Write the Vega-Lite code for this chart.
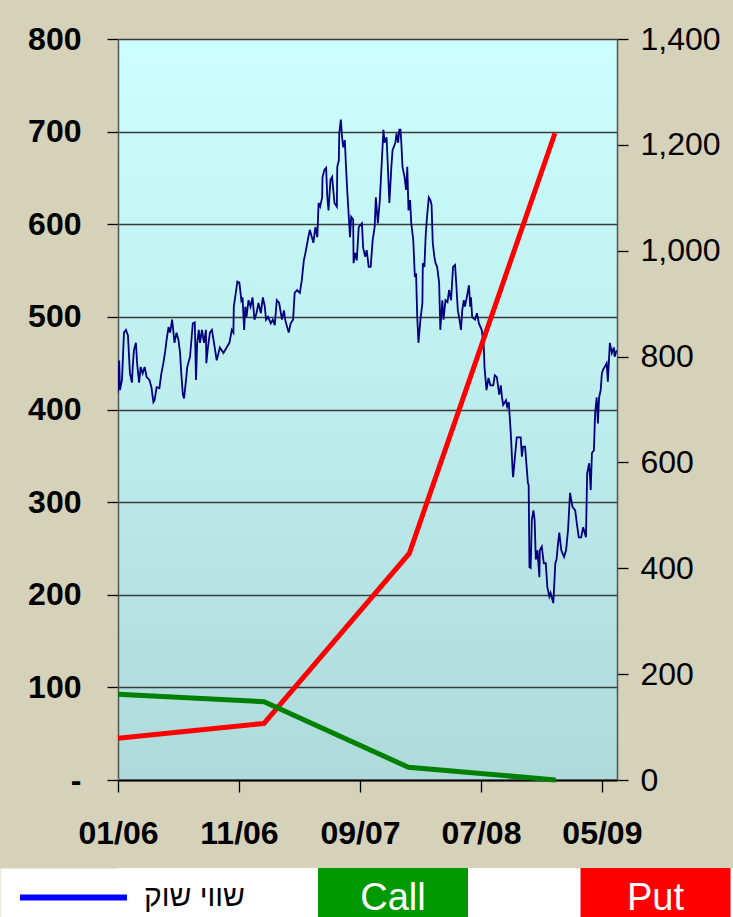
{
  "$schema": "https://vega.github.io/schema/vega-lite/v6.json",
  "background": "#d6d1b9",
  "padding": 0,
  "spacing": 0,
  "config": {
    "font": "Liberation Sans",
    "view": {"stroke": null},
    "axis": {"labelFont": "Liberation Sans", "labelColor": "#000000", "tickColor": "#000000"}
  },
  "resolve": {"scale": {"color": "independent", "x": "independent", "y": "independent"}},
  "datasets": {
    "market": [
      {"date":"2006-01-01","value":418},{"date":"2006-01-04","value":453},{"date":"2006-01-06","value":421},{"date":"2006-01-11","value":432},{"date":"2006-01-16","value":483},{"date":"2006-01-21","value":486},{"date":"2006-01-26","value":480},{"date":"2006-01-31","value":439},{"date":"2006-02-05","value":429},{"date":"2006-02-07","value":446},{"date":"2006-02-10","value":464},{"date":"2006-02-15","value":472},{"date":"2006-02-18","value":450},{"date":"2006-02-23","value":429},{"date":"2006-02-27","value":446},{"date":"2006-03-04","value":439},{"date":"2006-03-09","value":446},{"date":"2006-03-14","value":435},{"date":"2006-03-21","value":432},{"date":"2006-03-26","value":424},{"date":"2006-03-31","value":408},{"date":"2006-04-03","value":410},{"date":"2006-04-08","value":424},{"date":"2006-04-15","value":423},{"date":"2006-04-20","value":439},{"date":"2006-04-25","value":450},{"date":"2006-04-30","value":464},{"date":"2006-05-03","value":475},{"date":"2006-05-08","value":489},{"date":"2006-05-12","value":483},{"date":"2006-05-17","value":497},{"date":"2006-05-23","value":472},{"date":"2006-05-28","value":483},{"date":"2006-06-02","value":475},{"date":"2006-06-06","value":461},{"date":"2006-06-09","value":439},{"date":"2006-06-13","value":416},{"date":"2006-06-16","value":412},{"date":"2006-06-21","value":432},{"date":"2006-06-24","value":446},{"date":"2006-07-01","value":457},{"date":"2006-07-08","value":493},{"date":"2006-07-13","value":494},{"date":"2006-07-16","value":432},{"date":"2006-07-19","value":472},{"date":"2006-07-23","value":486},{"date":"2006-07-26","value":472},{"date":"2006-07-31","value":486},{"date":"2006-08-05","value":472},{"date":"2006-08-10","value":486},{"date":"2006-08-11","value":450},{"date":"2006-08-15","value":467},{"date":"2006-08-20","value":483},{"date":"2006-08-25","value":486},{"date":"2006-09-01","value":467},{"date":"2006-09-06","value":453},{"date":"2006-09-14","value":467},{"date":"2006-09-23","value":461},{"date":"2006-10-01","value":467},{"date":"2006-10-08","value":472},{"date":"2006-10-14","value":486},{"date":"2006-10-18","value":483},{"date":"2006-10-19","value":511},{"date":"2006-10-24","value":526},{"date":"2006-10-28","value":538},{"date":"2006-11-02","value":537},{"date":"2006-11-07","value":518},{"date":"2006-11-10","value":521},{"date":"2006-11-14","value":486},{"date":"2006-11-17","value":511},{"date":"2006-11-20","value":500},{"date":"2006-11-25","value":518},{"date":"2006-11-30","value":511},{"date":"2006-12-05","value":521},{"date":"2006-12-10","value":497},{"date":"2006-12-15","value":504},{"date":"2006-12-20","value":515},{"date":"2006-12-26","value":504},{"date":"2006-12-31","value":521},
      {"date":"2007-01-05","value":511},{"date":"2007-01-08","value":497},{"date":"2007-01-13","value":500},{"date":"2007-01-20","value":493},{"date":"2007-01-25","value":497},{"date":"2007-01-30","value":491},{"date":"2007-02-04","value":518},{"date":"2007-02-10","value":515},{"date":"2007-02-17","value":497},{"date":"2007-02-22","value":507},{"date":"2007-02-25","value":497},{"date":"2007-03-02","value":489},{"date":"2007-03-06","value":483},{"date":"2007-03-11","value":493},{"date":"2007-03-17","value":497},{"date":"2007-03-21","value":526},{"date":"2007-03-27","value":529},{"date":"2007-04-03","value":526},{"date":"2007-04-08","value":540},{"date":"2007-04-13","value":561},{"date":"2007-04-17","value":569},{"date":"2007-04-23","value":583},{"date":"2007-04-28","value":594},{"date":"2007-05-07","value":580},{"date":"2007-05-12","value":597},{"date":"2007-05-17","value":586},{"date":"2007-05-20","value":623},{"date":"2007-05-24","value":619},{"date":"2007-05-29","value":629},{"date":"2007-05-30","value":651},{"date":"2007-06-04","value":659},{"date":"2007-06-08","value":661},{"date":"2007-06-11","value":629},{"date":"2007-06-14","value":615},{"date":"2007-06-19","value":648},{"date":"2007-06-23","value":651},{"date":"2007-06-29","value":623},{"date":"2007-07-05","value":619},{"date":"2007-07-06","value":662},{"date":"2007-07-10","value":669},{"date":"2007-07-11","value":698},{"date":"2007-07-15","value":713},{"date":"2007-07-18","value":694},{"date":"2007-07-21","value":683},{"date":"2007-07-25","value":691},{"date":"2007-07-28","value":662},{"date":"2007-07-31","value":637},{"date":"2007-08-07","value":586},{"date":"2007-08-10","value":608},{"date":"2007-08-15","value":605},{"date":"2007-08-16","value":558},{"date":"2007-08-20","value":569},{"date":"2007-08-24","value":561},{"date":"2007-08-29","value":597},{"date":"2007-09-06","value":601},{"date":"2007-09-09","value":575},{"date":"2007-09-14","value":565},{"date":"2007-09-18","value":572},{"date":"2007-09-23","value":554},{"date":"2007-09-28","value":554},{"date":"2007-10-03","value":583},{"date":"2007-10-08","value":597},{"date":"2007-10-11","value":629},{"date":"2007-10-16","value":601},{"date":"2007-10-21","value":626},{"date":"2007-10-30","value":702},{"date":"2007-11-02","value":688},{"date":"2007-11-07","value":694},{"date":"2007-11-14","value":623},{"date":"2007-11-19","value":662},{"date":"2007-11-22","value":680},{"date":"2007-11-29","value":688},{"date":"2007-12-02","value":698},{"date":"2007-12-06","value":688},{"date":"2007-12-09","value":702},{"date":"2007-12-12","value":702},{"date":"2007-12-14","value":688},{"date":"2007-12-17","value":662},{"date":"2007-12-22","value":651},{"date":"2007-12-26","value":637},{"date":"2007-12-29","value":662},
      {"date":"2008-01-01","value":615},{"date":"2008-01-05","value":626},{"date":"2008-01-08","value":601},{"date":"2008-01-13","value":583},{"date":"2008-01-17","value":543},{"date":"2008-01-20","value":547},{"date":"2008-01-23","value":500},{"date":"2008-01-26","value":472},{"date":"2008-01-31","value":497},{"date":"2008-02-05","value":515},{"date":"2008-02-06","value":558},{"date":"2008-02-10","value":554},{"date":"2008-02-13","value":586},{"date":"2008-02-16","value":605},{"date":"2008-02-21","value":629},{"date":"2008-02-25","value":626},{"date":"2008-02-28","value":621},{"date":"2008-03-02","value":580},{"date":"2008-03-06","value":565},{"date":"2008-03-09","value":558},{"date":"2008-03-13","value":554},{"date":"2008-03-18","value":537},{"date":"2008-03-21","value":486},{"date":"2008-03-26","value":518},{"date":"2008-03-29","value":497},{"date":"2008-04-03","value":518},{"date":"2008-04-08","value":516},{"date":"2008-04-12","value":529},{"date":"2008-04-17","value":518},{"date":"2008-04-22","value":554},{"date":"2008-04-27","value":556},{"date":"2008-04-29","value":543},{"date":"2008-05-04","value":507},{"date":"2008-05-07","value":500},{"date":"2008-05-12","value":486},{"date":"2008-05-15","value":507},{"date":"2008-05-19","value":518},{"date":"2008-05-22","value":511},{"date":"2008-06-01","value":534},{"date":"2008-06-04","value":511},{"date":"2008-06-06","value":521},{"date":"2008-06-09","value":500},{"date":"2008-06-16","value":497},{"date":"2008-06-21","value":504},{"date":"2008-06-26","value":493},{"date":"2008-07-03","value":486},{"date":"2008-07-08","value":470},{"date":"2008-07-10","value":446},{"date":"2008-07-15","value":421},{"date":"2008-07-20","value":434},{"date":"2008-07-25","value":426},{"date":"2008-08-01","value":426},{"date":"2008-08-05","value":437},{"date":"2008-08-10","value":435},{"date":"2008-08-16","value":416},{"date":"2008-08-20","value":426},{"date":"2008-08-23","value":413},{"date":"2008-08-26","value":405},{"date":"2008-09-02","value":410},{"date":"2008-09-05","value":403},{"date":"2008-09-09","value":408},{"date":"2008-09-14","value":375},{"date":"2008-09-19","value":331},{"date":"2008-09-20","value":327},{"date":"2008-09-29","value":370},{"date":"2008-10-09","value":370},{"date":"2008-10-12","value":349},{"date":"2008-10-15","value":360},{"date":"2008-10-20","value":360},{"date":"2008-10-27","value":321},{"date":"2008-10-29","value":318},{"date":"2008-10-31","value":230},{"date":"2008-11-03","value":229},{"date":"2008-11-06","value":281},{"date":"2008-11-10","value":291},{"date":"2008-11-13","value":281},{"date":"2008-11-16","value":238},{"date":"2008-11-20","value":248},{"date":"2008-11-25","value":219},{"date":"2008-11-26","value":248},{"date":"2008-12-01","value":252},{"date":"2008-12-06","value":234},{"date":"2008-12-11","value":234},{"date":"2008-12-15","value":208},{"date":"2008-12-20","value":198},{"date":"2008-12-23","value":202},{"date":"2008-12-30","value":191},
      {"date":"2009-01-04","value":234},{"date":"2009-01-07","value":238},{"date":"2009-01-11","value":256},{"date":"2009-01-14","value":267},{"date":"2009-01-19","value":248},{"date":"2009-01-26","value":241},{"date":"2009-01-31","value":248},{"date":"2009-02-05","value":270},{"date":"2009-02-10","value":310},{"date":"2009-02-16","value":295},{"date":"2009-02-23","value":291},{"date":"2009-02-27","value":277},{"date":"2009-03-04","value":262},{"date":"2009-03-10","value":262},{"date":"2009-03-15","value":273},{"date":"2009-03-22","value":262},{"date":"2009-03-25","value":331},{"date":"2009-03-30","value":342},{"date":"2009-04-03","value":313},{"date":"2009-04-06","value":353},{"date":"2009-04-11","value":356},{"date":"2009-04-14","value":396},{"date":"2009-04-18","value":413},{"date":"2009-04-21","value":385},{"date":"2009-04-24","value":413},{"date":"2009-04-28","value":421},{"date":"2009-05-01","value":439},{"date":"2009-05-04","value":443},{"date":"2009-05-08","value":446},{"date":"2009-05-13","value":450},{"date":"2009-05-16","value":430},{"date":"2009-05-21","value":472},{"date":"2009-05-26","value":461},{"date":"2009-05-31","value":467},{"date":"2009-06-02","value":457},{"date":"2009-06-07","value":464}
    ],
    "options": [
      {"date":"2006-01-01","series":"Put","value":79},
      {"date":"2007-01-03","series":"Put","value":107},
      {"date":"2008-01-03","series":"Put","value":428},
      {"date":"2009-01-03","series":"Put","value":1222},
      {"date":"2006-01-01","series":"Call","value":162},
      {"date":"2007-01-03","series":"Call","value":148},
      {"date":"2008-01-01","series":"Call","value":24},
      {"date":"2009-01-05","series":"Call","value":0}
    ],
    "legend": [
      {"item":"שווי שוק"},
      {"item":"Call"},
      {"item":"Put"}
    ]
  },
  "vconcat": [
    {
      "width": 499,
      "height": 741,
      "view": {
        "stroke": null,
        "fill": {"gradient": "linear", "x1": 0, "y1": 0, "x2": 0, "y2": 1,
          "stops": [{"offset": 0, "color": "#ccffff"}, {"offset": 1, "color": "#aedada"}]}
      },
      "layer": [
        {
          "data": {"name": "market"},
          "mark": {"type": "line", "color": "#000080", "strokeWidth": 1.8, "clip": true},
          "encoding": {
            "x": {
              "field": "date", "type": "temporal",
              "scale": {"type": "utc", "domain": [{"year": 2006, "month": 1, "date": 1, "utc": true}, {"year": 2009, "month": 6, "date": 8, "utc": true}]},
              "axis": {
                "values": [
                  {"year": 2006, "month": 1, "date": 1, "utc": true},
                  {"year": 2006, "month": 11, "date": 1, "utc": true},
                  {"year": 2007, "month": 9, "date": 1, "utc": true},
                  {"year": 2008, "month": 7, "date": 1, "utc": true},
                  {"year": 2009, "month": 5, "date": 1, "utc": true}
                ],
                "format": "%m/%y",
                "labelFontSize": 32, "labelFontWeight": "bold",
                "labelFlush": false, "labelOverlap": false,
                "labelPadding": 26,
                "tickSize": 12, "tickWidth": 1.3,
                "domainColor": "#000000", "domainWidth": 1.8,
                "grid": false,
                "title": ".", "titleColor": "rgba(0,0,0,0)", "titleFontSize": 2,
                "titleX": 0, "titleY": 88, "titleBaseline": "bottom", "titleAlign": "left"
              }
            },
            "y": {
              "field": "value", "type": "quantitative",
              "scale": {"domain": [0, 800], "nice": false},
              "axis": {
                "values": [0, 100, 200, 300, 400, 500, 600, 700, 800],
                "labelExpr": "datum.value === 0 ? '-    ' : datum.label",
                "labelFontSize": 32, "labelFontWeight": "bold",
                "labelPadding": 26,
                "tickSize": 11, "tickWidth": 1.3,
                "grid": true, "gridColor": "#3a3a3a", "gridWidth": 1.3,
                "domainColor": "#555555", "domainWidth": 1.5,
                "title": ".", "titleColor": "rgba(0,0,0,0)", "titleFontSize": 2,
                "titleAngle": 0, "titleX": -118, "titleY": -39, "titleBaseline": "top", "titleAlign": "left"
              }
            }
          }
        },
        {
          "data": {"name": "options"},
          "mark": {"type": "line", "strokeWidth": 5},
          "encoding": {
            "x": {"field": "date", "type": "temporal"},
            "y": {
              "field": "value", "type": "quantitative",
              "scale": {"domain": [0, 1400], "nice": false},
              "axis": {
                "orient": "right",
                "values": [0, 200, 400, 600, 800, 1000, 1200, 1400],
                "format": ",d",
                "labelFontSize": 32, "labelFontWeight": "normal",
                "labelPadding": 12,
                "tickSize": 11, "tickWidth": 1.3,
                "grid": false,
                "domainColor": "#555555", "domainWidth": 1.5,
                "title": null
              }
            },
            "color": {
              "field": "series", "type": "nominal",
              "scale": {"domain": ["Call", "Put"], "range": ["#008000", "#ff0000"]},
              "legend": null
            }
          }
        }
      ],
      "resolve": {"scale": {"y": "independent"}}
    },
    {
      "width": 615,
      "height": 49,
      "view": {"fill": "#ffffff", "stroke": null},
      "data": {"name": "legend"},
      "encoding": {
        "x": {
          "field": "item", "type": "nominal",
          "scale": {"domain": ["שווי שוק", "Call", "Put"], "range": [-118, 615], "paddingInner": 0.4286, "paddingOuter": 0.1105, "align": 0.957},
          "axis": null
        }
      },
      "layer": [
        {
          "transform": [{"filter": "datum.item !== 'שווי שוק'"}],
          "mark": {"type": "rect"},
          "encoding": {
            "y": {
              "datum": 0, "type": "quantitative",
              "scale": {"domain": [0, 1], "nice": false},
              "axis": {"orient": "left", "domain": true, "domainColor": "#ffffff", "domainWidth": 236, "domainCap": "butt", "ticks": false, "labels": false, "grid": false, "title": null}
            },
            "y2": {"datum": 1},
            "color": {
              "field": "item", "type": "nominal",
              "scale": {"domain": ["Call", "Put"], "range": ["#009900", "#ff0000"]},
              "legend": null
            }
          }
        },
        {
          "transform": [{"filter": "datum.item !== 'שווי שוק'"}],
          "mark": {"type": "text", "color": "#ffffff", "fontSize": 38, "font": "Liberation Sans", "baseline": "alphabetic", "dy": 17},
          "encoding": {"text": {"field": "item"}}
        },
        {
          "transform": [{"filter": "datum.item === 'שווי שוק'"}],
          "mark": {"type": "tick", "orient": "horizontal", "color": "#0000ff", "thickness": 6, "size": 107, "xOffset": -57, "yOffset": 5, "opacity": 1},
          "encoding": {}
        },
        {
          "transform": [{"filter": "datum.item === 'שווי שוק'"}],
          "mark": {"type": "text", "color": "#000000", "fontSize": 30, "font": "Liberation Sans", "baseline": "alphabetic", "dy": 13, "xOffset": 64},
          "encoding": {"text": {"field": "item"}}
        }
      ]
    }
  ]
}
